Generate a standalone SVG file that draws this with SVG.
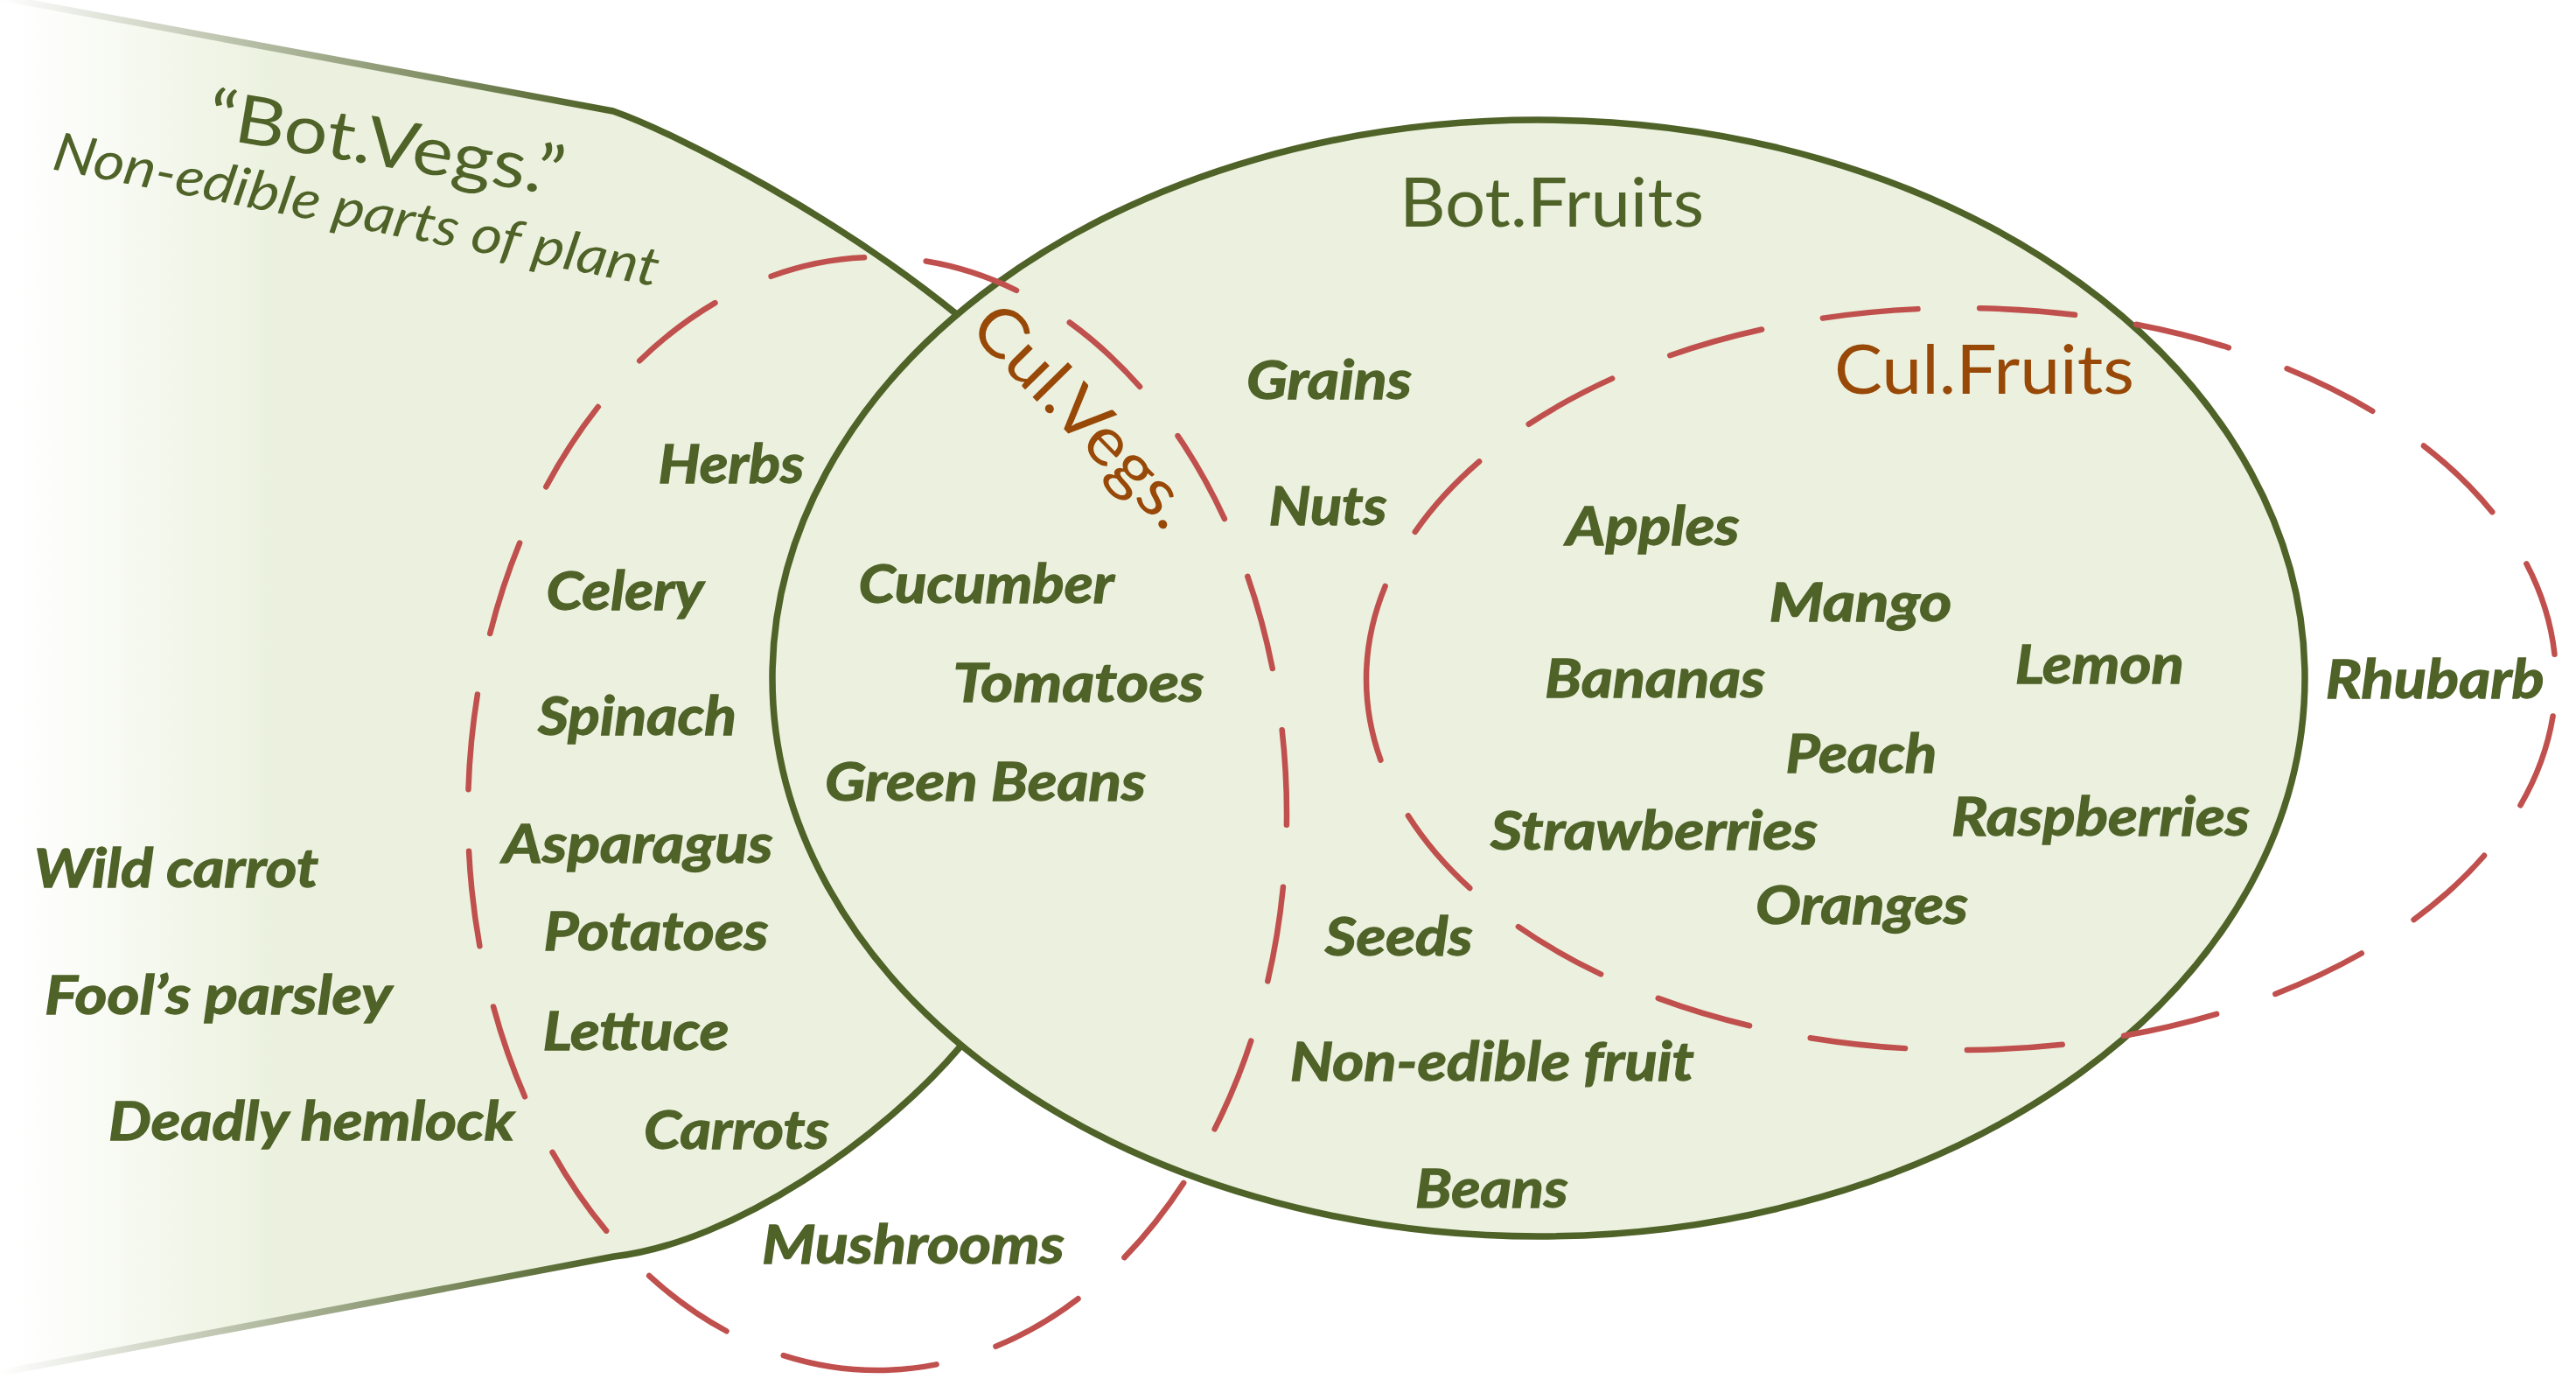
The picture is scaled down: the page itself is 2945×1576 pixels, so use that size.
<svg xmlns="http://www.w3.org/2000/svg" width="2945" height="1576" viewBox="0 0 2945 1576">
  <defs>
    <linearGradient id="vegFill" gradientUnits="userSpaceOnUse" x1="20" y1="0" x2="320" y2="0">
      <stop offset="0" stop-color="#FFFFFF"/>
      <stop offset="1" stop-color="#EBF1DE"/>
    </linearGradient>
    <linearGradient id="vegLine" gradientUnits="userSpaceOnUse" x1="0" y1="0" x2="690" y2="0">
      <stop offset="0" stop-color="#FFFFFF"/>
      <stop offset="1" stop-color="#4F6228"/>
    </linearGradient>
    <style>
      .set { fill: #EBF1DE; stroke: #4F6228; stroke-width: 7.5; }
      .edge { fill: none; stroke: url(#vegLine); stroke-width: 7.5; stroke-linejoin: round; }
      .dash { fill: none; stroke: #C0504D; stroke-width: 6.5; stroke-linecap: round; stroke-dasharray: 109 71; }
      .title { font-family: Lato, "Liberation Sans", sans-serif; font-size: 77px; fill: #4F6228; }
      .sub { font-family: Lato, "Liberation Sans", sans-serif; font-style: italic; font-size: 61px; fill: #4F6228; }
      .cul { fill: #984807; }
      .item { font-family: Lato, "Liberation Sans", sans-serif; font-weight: 700; font-style: italic; font-size: 61px; fill: #4F6228; stroke: #4F6228; stroke-width: 1.3; }
    </style>
  </defs>

  <g id="bot-vegs">
    <path d="M0,-3 L701,127 C780,155 960,250 1096,361 L1200,780 L1098,1196 C1010,1300 840,1420 702,1436 L0,1569 Z" fill="url(#vegFill)"/>
    <path class="edge" d="M0,-3 L701,127 C780,155 960,250 1096,361 L1112,374"/>
    <path class="edge" d="M1112,1184 L1098,1196 C1010,1300 840,1420 702,1436 L0,1569"/>
    <text class="title" transform="translate(234,156) rotate(9.5)" textLength="412" lengthAdjust="spacingAndGlyphs">“Bot.Vegs.”</text>
    <text class="sub" transform="translate(58,193) rotate(11)" textLength="704" lengthAdjust="spacingAndGlyphs">Non-edible parts of plant</text>
  </g>

  <g id="bot-fruits">
    <ellipse class="set" cx="1759" cy="775" rx="876" ry="638"/>
    <text class="title" x="1600" y="259" textLength="348" lengthAdjust="spacingAndGlyphs">Bot.Fruits</text>
  </g>

  <g id="cul-vegs">
    <path class="dash" d="M1003,1566 A468,636 0 1 1 1003,294 A468,636 0 1 1 1003,1566"/>
    <text class="title cul" transform="translate(1106,378) rotate(45.5)" textLength="324" lengthAdjust="spacingAndGlyphs">Cul.Vegs.</text>
  </g>

  <g id="cul-fruits">
    <path class="dash" d="M1562,776 A680,424 0 1 1 2922,776 A680,424 0 1 1 1562,776"/>
    <text class="title cul" x="2097" y="450" textLength="343" lengthAdjust="spacingAndGlyphs">Cul.Fruits</text>
  </g>

  <g id="items">
    <text id="herbs" class="item" x="752.5" y="552" textLength="167" lengthAdjust="spacingAndGlyphs">Herbs</text>
    <text id="celery" class="item" x="624.5" y="697" textLength="180" lengthAdjust="spacingAndGlyphs">Celery</text>
    <text id="spinach" class="item" x="615" y="840" textLength="227" lengthAdjust="spacingAndGlyphs">Spinach</text>
    <text id="asparagus" class="item" x="574.6" y="985.5" textLength="309" lengthAdjust="spacingAndGlyphs">Asparagus</text>
    <text id="potatoes" class="item" x="621.6" y="1086" textLength="257" lengthAdjust="spacingAndGlyphs">Potatoes</text>
    <text id="lettuce" class="item" x="620.5" y="1199.6" textLength="213" lengthAdjust="spacingAndGlyphs">Lettuce</text>
    <text id="carrots" class="item" x="736" y="1312.6" textLength="212" lengthAdjust="spacingAndGlyphs">Carrots</text>
    <text id="wild-carrot" class="item" x="39" y="1014" textLength="325" lengthAdjust="spacingAndGlyphs">Wild carrot</text>
    <text id="fools-parsley" class="item" x="51" y="1158.6" textLength="397" lengthAdjust="spacingAndGlyphs">Fool’s parsley</text>
    <text id="deadly-hemlock" class="item" x="124" y="1303" textLength="464" lengthAdjust="spacingAndGlyphs">Deadly hemlock</text>
    <text id="mushrooms" class="item" x="871" y="1444" textLength="346" lengthAdjust="spacingAndGlyphs">Mushrooms</text>
    <text id="cucumber" class="item" x="981.6" y="688.7" textLength="292" lengthAdjust="spacingAndGlyphs">Cucumber</text>
    <text id="tomatoes" class="item" x="1089.5" y="801.7" textLength="287" lengthAdjust="spacingAndGlyphs">Tomatoes</text>
    <text id="green-beans" class="item" x="943" y="915" textLength="367" lengthAdjust="spacingAndGlyphs">Green Beans</text>
    <text id="grains" class="item" x="1425" y="455.6" textLength="189" lengthAdjust="spacingAndGlyphs">Grains</text>
    <text id="nuts" class="item" x="1450.6" y="599.5" textLength="135" lengthAdjust="spacingAndGlyphs">Nuts</text>
    <text id="seeds" class="item" x="1514.8" y="1091.7" textLength="169" lengthAdjust="spacingAndGlyphs">Seeds</text>
    <text id="non-edible-fruit" class="item" x="1474.8" y="1235.4" textLength="462" lengthAdjust="spacingAndGlyphs">Non-edible fruit</text>
    <text id="beans" class="item" x="1617.8" y="1380" textLength="175" lengthAdjust="spacingAndGlyphs">Beans</text>
    <text id="apples" class="item" x="1790.6" y="623.4" textLength="198" lengthAdjust="spacingAndGlyphs">Apples</text>
    <text id="mango" class="item" x="2022.5" y="709.5" textLength="209" lengthAdjust="spacingAndGlyphs">Mango</text>
    <text id="bananas" class="item" x="1766" y="797.4" textLength="252" lengthAdjust="spacingAndGlyphs">Bananas</text>
    <text id="lemon" class="item" x="2303.8" y="781.3" textLength="193" lengthAdjust="spacingAndGlyphs">Lemon</text>
    <text id="peach" class="item" x="2041.4" y="883" textLength="173" lengthAdjust="spacingAndGlyphs">Peach</text>
    <text id="strawberries" class="item" x="1704" y="970.7" textLength="374" lengthAdjust="spacingAndGlyphs">Strawberries</text>
    <text id="raspberries" class="item" x="2231" y="955" textLength="341" lengthAdjust="spacingAndGlyphs">Raspberries</text>
    <text id="oranges" class="item" x="2007" y="1055.7" textLength="243" lengthAdjust="spacingAndGlyphs">Oranges</text>
    <text id="rhubarb" class="item" x="2658.7" y="798.3" textLength="250" lengthAdjust="spacingAndGlyphs">Rhubarb</text>
  </g>
</svg>
